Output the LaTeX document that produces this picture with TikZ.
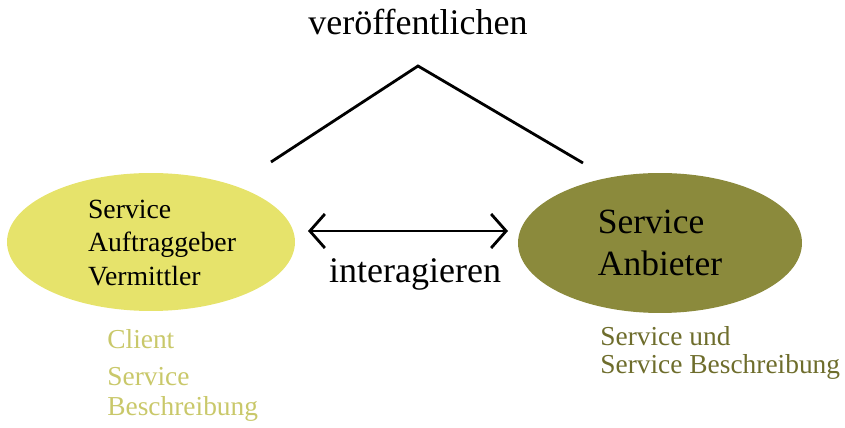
\documentclass[tikz,border=0pt]{standalone}
\usepackage{fontspec}
\setmainfont{Liberation Serif}
\usetikzlibrary{positioning,shapes.geometric,arrows.meta}
\definecolor{clientfill}{HTML}{E6E36B}
\definecolor{anbieterfill}{HTML}{8B8A3C}
\definecolor{clienttext}{HTML}{C9C86A}
\definecolor{anbietertext}{HTML}{6E6D2C}
\begin{document}
\begin{tikzpicture}[x=0.02cm,y=-0.02cm,
    rolle/.style={ellipse,inner sep=0pt,align=left},
    verb/.style={font=\fontsize{20.5}{24}\selectfont},
    notiz/.style={inner sep=0pt,anchor=north west,align=left,font=\fontsize{15.6}{17}\selectfont}]
        \useasboundingbox (0,0) rectangle (845,428);
        \node[rolle,fill=clientfill,minimum width=5.76cm,minimum height=2.76cm] (client) at (151,242) {};
        \node[align=left,inner sep=0pt,font=\fontsize{15.8}{18.8}\selectfont] (clienttxt) at (162,243) {Service\\Auftraggeber\\Vermittler};
        \node[rolle,fill=anbieterfill,minimum width=5.68cm,minimum height=2.8cm,font=\fontsize{20.2}{23.9}\selectfont] (anbieter) at (660,243) {Service\\Anbieter};

        \coordinate (pl) at (271,162);
        \coordinate (pt) at (418,66);
        \coordinate (pr) at (583,163);
        \draw[line width=1.6pt] (pl) -- (pt) -- (pr);
        \node[verb,anchor=base] (pub) at (418,35) {veröffentlichen};

        \coordinate (al) at (308,231);
        \coordinate (ar) at (508,231);
        \draw[line width=1.6pt,{Straight Barb[length=0.3cm,width=0.68cm]}-{Straight Barb[length=0.3cm,width=0.68cm]}] (al) -- (ar);
        \node[verb,anchor=base] (inter) at (415,283) {interagieren};

        \node[notiz,text=clienttext] (cnote) at (107,329) {Client\\[4pt]Service\\Beschreibung};
        \node[notiz,text=anbietertext,font=\fontsize{15.6}{16}\selectfont] (anote) at (600,326) {Service und\\Service Beschreibung};
    \end{tikzpicture}
\end{document}
